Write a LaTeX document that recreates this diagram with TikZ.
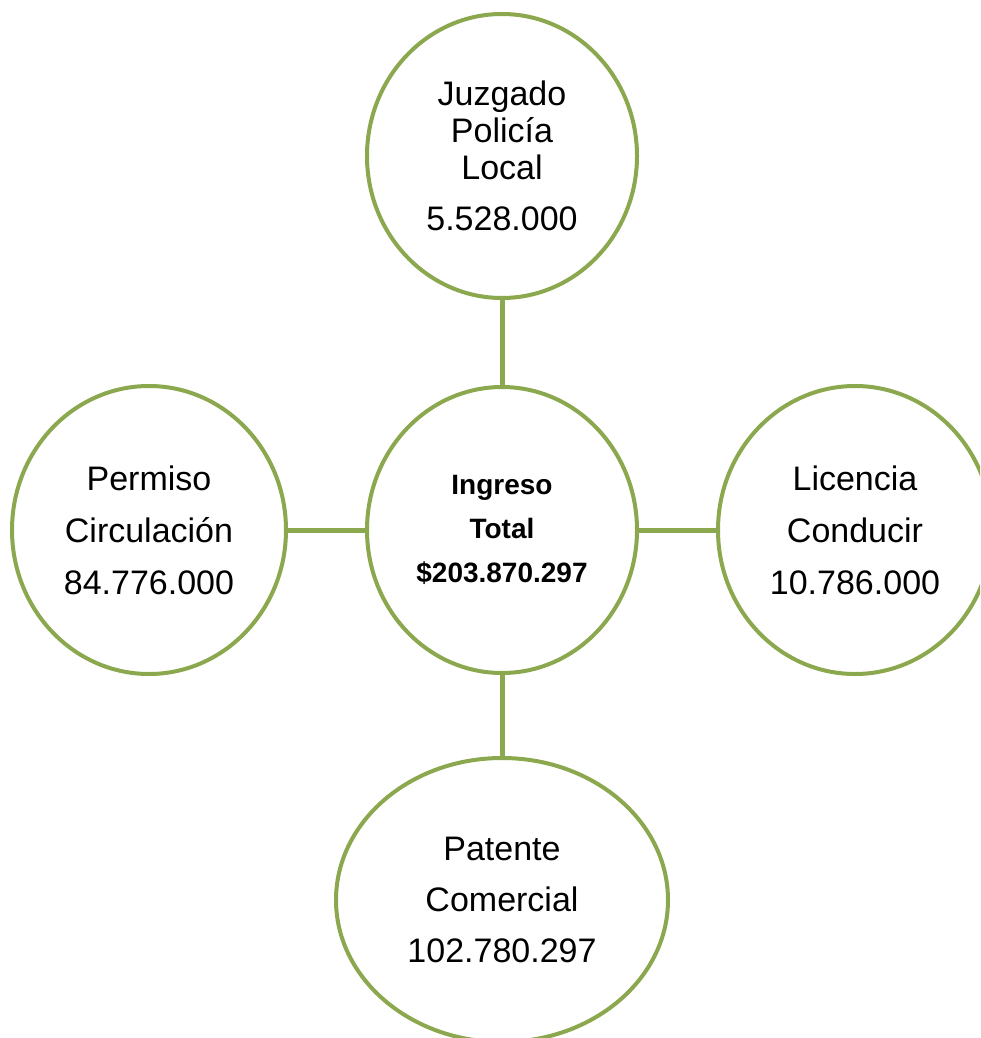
\documentclass[tikz,border=0pt]{standalone}
\usepackage{fontspec}
\setmainfont{Liberation Sans}
\usetikzlibrary{shapes.geometric}
\definecolor{olive}{RGB}{139,168,78}
\begin{document}
\begin{tikzpicture}[x=1pt,y=1pt,
  bubble/.style={ellipse,draw=olive,line width=4pt,fill=white,inner sep=0pt,align=center,text=black},
  outer/.style={bubble,font=\fontsize{34}{52}\selectfont},
  conn/.style={draw=olive,line width=5pt}]
\useasboundingbox (0,0) rectangle (980,-1038);
\clip (0,0) rectangle (980,-1038);
\node[bubble,minimum width=270pt,minimum height=284pt,font=\fontsize{34}{37}\selectfont] (top) at (502,-156) {Juzgado\\Policía\\Local\\[14pt]5.528.000};
\node[bubble,minimum width=270pt,minimum height=286pt,font=\fontsize{28}{44}\selectfont\bfseries] (center) at (502,-530) {Ingreso\\Total\\\$203.870.297};
\node[outer,minimum width=274pt,minimum height=288pt] (left) at (149,-530) {Permiso\\Circulación\\84.776.000};
\node[outer,minimum width=274pt,minimum height=288pt] (right) at (855,-530) {Licencia\\Conducir\\10.786.000};
\node[bubble,minimum width=332pt,minimum height=284pt,font=\fontsize{34}{51}\selectfont] (bottom) at (502,-900) {Patente\\Comercial\\102.780.297};
\draw[conn] (top.south) -- (center.north);
\draw[conn] (center.south) -- (bottom.north);
\draw[conn] (left.east) -- (center.west);
\draw[conn] (center.east) -- (right.west);
\end{tikzpicture}
\end{document}
